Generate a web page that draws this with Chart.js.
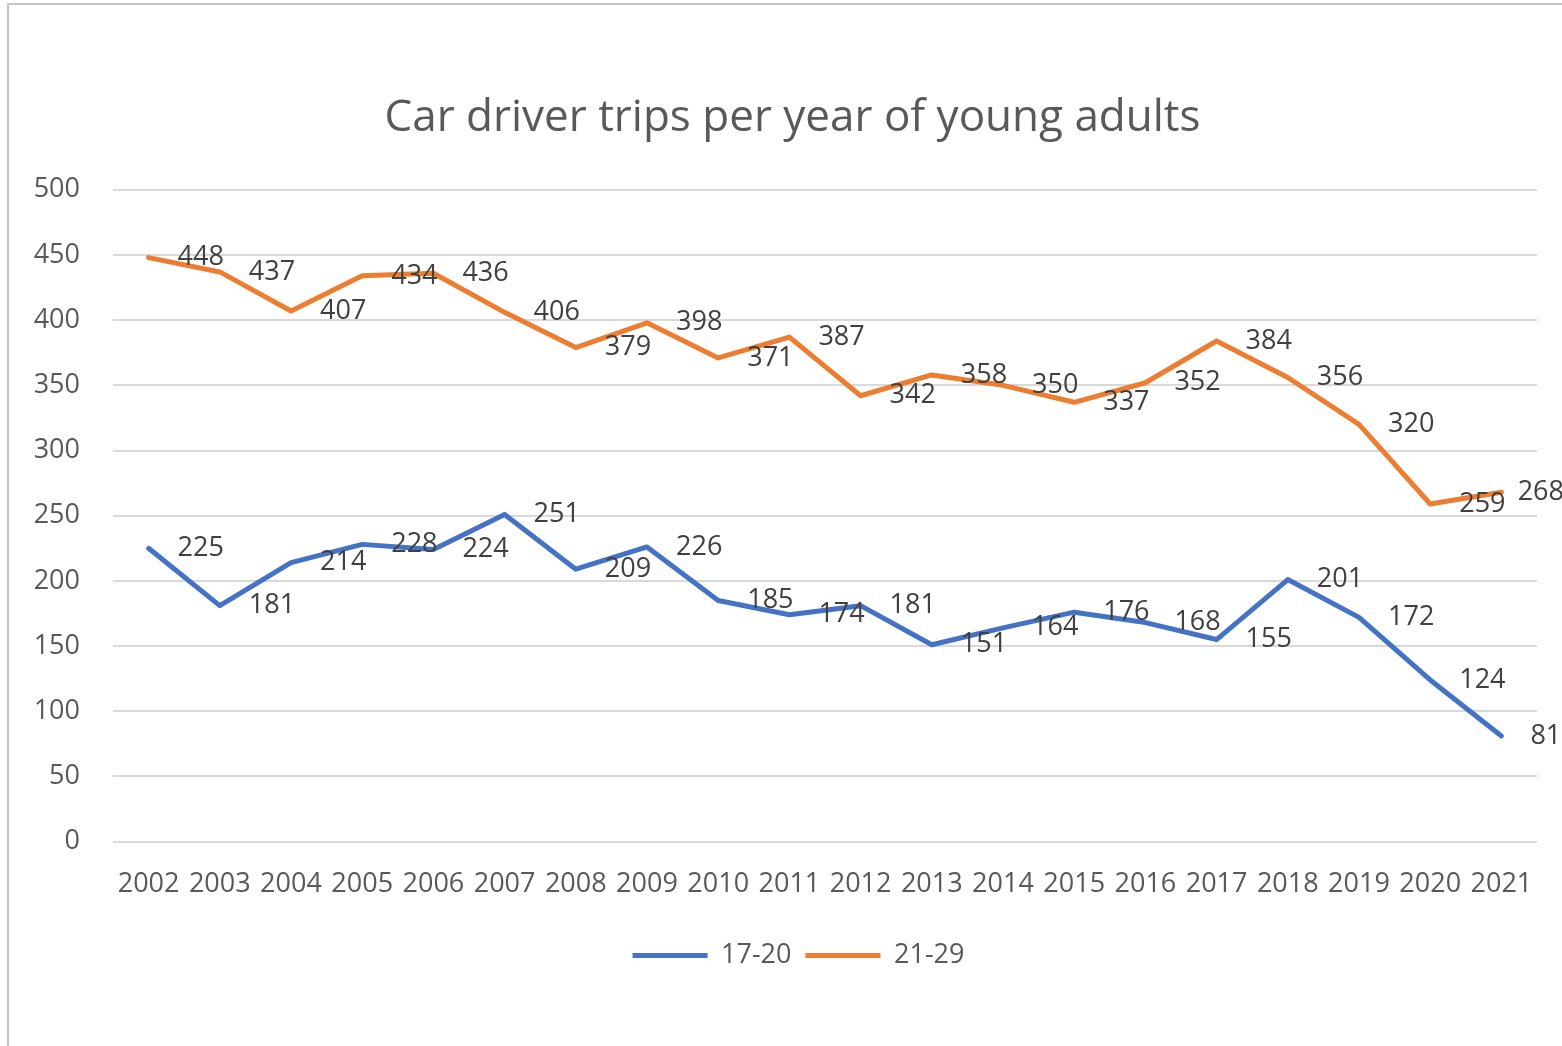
<!DOCTYPE html>
<html>
<head>
<meta charset="utf-8">
<script src="https://cdn.jsdelivr.net/npm/chart.js@4.4.1/dist/chart.umd.min.js"></script>
<style>
    html, body { margin: 0; padding: 0; background: #fff; overflow: hidden; }
    #wrap { position: absolute; left: 0; top: 0; width: 1562px; height: 1046px; }
</style>
</head>
<body>
<div id="wrap"><canvas id="chart"></canvas></div>
<script>
// 数据
const years = ['2002', '2003', '2004', '2005', '2006', '2007', '2008', '2009', '2010', '2011',
    '2012', '2013', '2014', '2015', '2016', '2017', '2018', '2019', '2020', '2021'];
const trips1720 = [225, 181, 214, 228, 224, 251, 209, 226, 185, 174, 181, 151, 164, 176, 168, 155, 201, 172, 124, 81];
const trips2129 = [448, 437, 407, 434, 436, 406, 379, 398, 371, 387, 342, 358, 350, 337, 352, 384, 356, 320, 259, 268];
const yTicks = [0, 50, 100, 150, 200, 250, 300, 350, 400, 450, 500];

const FONT = "'Open Sans', sans-serif";

// 外框 (只画左边和上边，其余被裁掉)
const framePlugin = {
    id: 'frame',
    afterLayout(chart) {
        // 标题和图例稍微往右挪一点
        if (chart.titleBlock) chart.titleBlock.left += 48;
        if (chart.legend) chart.legend.left += 60;
    },
    beforeDraw(chart) {
        const { ctx } = chart;
        ctx.save();
        ctx.fillStyle = '#fff';
        ctx.fillRect(0, 0, chart.width, chart.height);
        ctx.strokeStyle = '#c4c4c4';
        ctx.lineWidth = 2;
        ctx.beginPath();
        ctx.moveTo(8, chart.height);
        ctx.lineTo(8, 4);
        ctx.lineTo(chart.width, 4);
        ctx.stroke();
        ctx.restore();
    }
};

// 数据标签，放在点的右侧（超出右边时往回挪）
const valueLabels = {
    id: 'valueLabels',
    afterDatasetsDraw(chart) {
        const { ctx } = chart;
        ctx.save();
        ctx.font = '27px ' + FONT;
        ctx.fillStyle = '#404040';
        ctx.textAlign = 'left';
        ctx.textBaseline = 'middle';
        chart.data.datasets.forEach((ds, i) => {
            chart.getDatasetMeta(i).data.forEach((pt, j) => {
                const txt = String(ds.data[j]);
                const w = ctx.measureText(txt).width;
                const x = Math.min(pt.x + 29, chart.width + 2 - w);
                ctx.fillText(txt, x, pt.y);
            });
        });
        ctx.restore();
    }
};

new Chart(document.getElementById('chart'), {
    type: 'line',
    data: {
        labels: years,
        datasets: [
            { label: '17-20', data: trips1720, borderColor: '#4472C4', backgroundColor: '#4472C4' },
            { label: '21-29', data: trips2129, borderColor: '#ED7D31', backgroundColor: '#ED7D31' }
        ]
    },
    options: {
        responsive: true,
        maintainAspectRatio: false,
        animation: false,
        layout: { padding: { left: 0, right: 25, top: 0, bottom: 67 } },
        elements: {
            line: { borderWidth: 5, tension: 0, borderCapStyle: 'round', borderJoinStyle: 'round' },
            point: { radius: 0, hoverRadius: 0 }
        },
        scales: {
            x: {
                offset: true,
                grid: { display: false, drawTicks: false },
                border: { display: false },
                ticks: { color: '#595959', font: { family: FONT, size: 27 }, padding: 27, maxRotation: 0, autoSkip: false }
            },
            y: {
                min: 0,
                max: 500,
                afterBuildTicks(scale) { scale.ticks = yTicks.map(v => ({ value: v })); },
                afterFit(scale) { scale.width = 113; },
                grid: { color: '#d9d9d9', lineWidth: 2, drawTicks: false },
                border: { display: false },
                ticks: { color: '#595959', font: { family: FONT, size: 27 }, padding: 33 }
            }
        },
        plugins: {
            title: {
                display: true,
                text: 'Car driver trips per year of young adults',
                color: '#595959',
                font: { family: FONT, size: 44, weight: 'normal' },
                padding: { top: 92, bottom: 45 }
            },
            legend: {
                position: 'bottom',
                labels: {
                    usePointStyle: true,
                    pointStyleWidth: 75,
                    color: '#595959',
                    font: { family: FONT, size: 27 },
                    padding: 14,
                    generateLabels(chart) {
                        return chart.data.datasets.map((ds, i) => ({
                            text: ds.label,
                            strokeStyle: ds.borderColor,
                            fillStyle: ds.borderColor,
                            lineWidth: 5,
                            pointStyle: 'line',
                            fontColor: '#595959',
                            hidden: false,
                            datasetIndex: i
                        }));
                    }
                }
            },
            tooltip: { enabled: false }
        }
    },
    plugins: [framePlugin, valueLabels]
});
</script>
</body>
</html>
